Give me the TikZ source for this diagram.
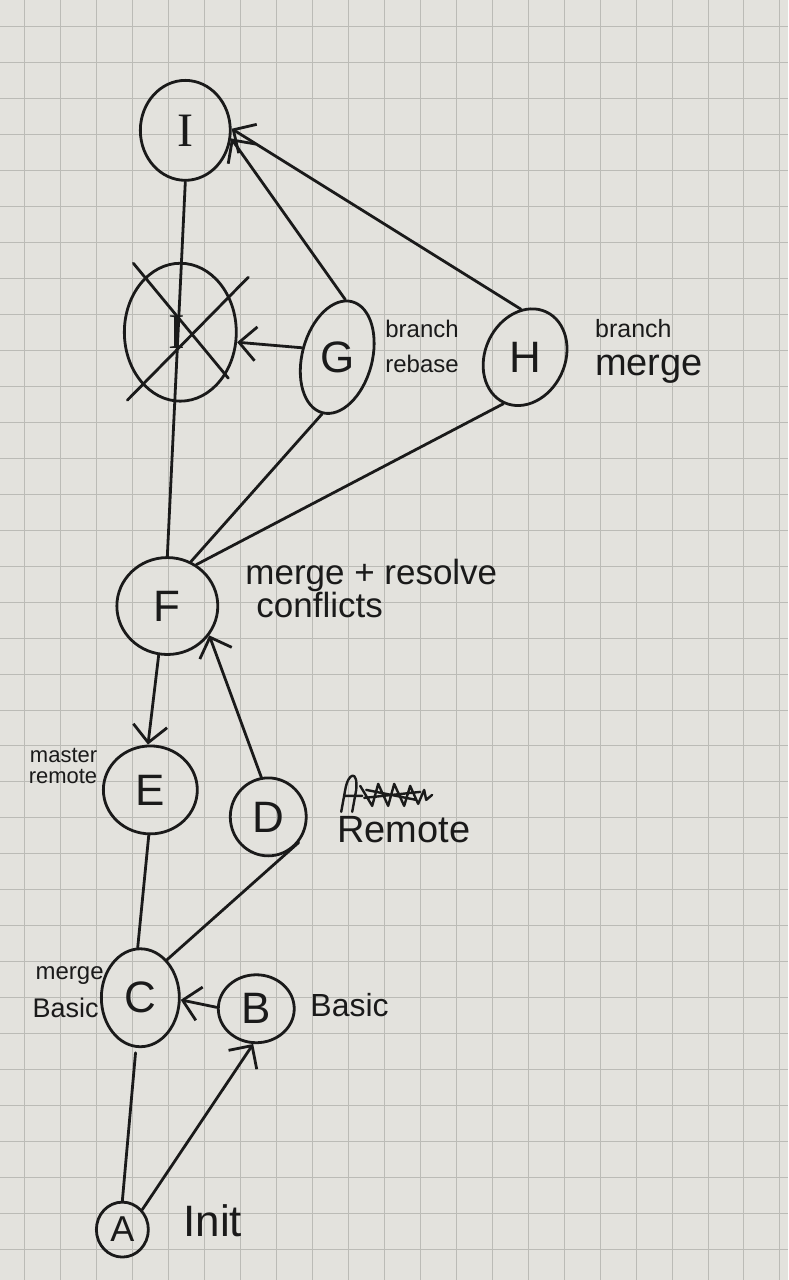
\documentclass[tikz,border=0pt]{standalone}
\usepackage{fontspec}
\setmainfont{Liberation Sans}
\newfontfamily\barfont{Liberation Serif}
\usetikzlibrary{shapes.geometric,arrows.meta,calc}
\definecolor{paper}{HTML}{E3E2DD}
\definecolor{gridc}{HTML}{BBBBB6}
\definecolor{inkc}{HTML}{1A1A1A}
\newcommand\myfs[1]{\fontsize{#1}{#1}\selectfont}
\begin{document}
\begin{tikzpicture}[x=1pt,y=-1pt,
  gridline/.style={draw=gridc, line width=0.9pt},
  ring/.style={ellipse, draw=inkc, line width=2.8pt, inner sep=0pt, text=inkc, font=\myfs{44}},
  letter/.style={text=inkc, inner sep=0pt, font=\myfs{44}},
  link/.style={draw=inkc, line width=2.8pt, line cap=round},
  arr/.style={link, -{Straight Barb[length=17pt,width=34pt,line width=2.8pt]}},
  note/.style={text=inkc, align=left, anchor=base west, inner sep=0pt},
]
% paper and grid
\fill[paper] (0,0) rectangle (788,1280);
\foreach \gx in {24,60,...,788} \draw[gridline] (\gx,0) -- (\gx,1280);
\foreach \gy in {26,62,...,1280} \draw[gridline] (0,\gy) -- (788,\gy);

% commits
\node[ring, minimum width=90pt, minimum height=100pt, font=\barfont\myfs{48}] (I) at (185,130) {I};
\node[ring, minimum width=112pt, minimum height=138pt] (Ix) at (180,332) {};
\node[ring, minimum width=70pt, minimum height=115pt, rotate=-15] (G) at (337,357) {};
\node[letter] (GL) at (G) {G};
\node[ring, minimum width=80pt, minimum height=100pt, rotate=-25] (H) at (525,357) {};
\node[letter] (HL) at (H) {H};
\node[ring, minimum width=101pt, minimum height=97pt] (F) at (167,606) {F};
\node[ring, minimum width=94pt, minimum height=88pt] (E) at (150,790) {E};
\node[ring, minimum width=76pt, minimum height=78pt] (D) at (268,817) {D};
\node[ring, minimum width=78pt, minimum height=98pt] (C) at (140,998) {C};
\node[ring, minimum width=76pt, minimum height=68pt] (B) at (256,1009) {B};
\node[ring, minimum width=52pt, minimum height=55pt, font=\myfs{36}] (A) at (122,1230) {A};

% connectors
\draw[arr] (A.45) -- (B.-95);
\draw[link, shorten >=5pt] (A.north) -- (C.-95);
\draw[arr] (B.178) -- (C.-3);
\draw[link] (C.55) -- (D.-40);
\draw[link] (C.93) -- (E.-92);
\draw[arr] (F.-100) -- (E.93);
\draw[arr] (D.100) -- (F.-35);
\draw[link] (F.north) -- (I.south);
\draw[link] (F.62) -- (G.south);
\draw[link] (F.55) -- (H.south);
\draw[arr] (G.west) -- (Ix.-10);
\draw[arr] (G.97) -- (I.-10);
\draw[arr] (H.120) -- (I.2);

% letter of the abandoned commit, and the cross over it
\node[letter, font=\barfont\myfs{50}] (IxL) at ($(Ix.center)+(-4,0)$) {I};
\draw[link] ($(Ix.center)+(-47,-69)$) -- ($(Ix.center)+(48,46)$);
\draw[link] ($(Ix.center)+(68,-55)$) -- ($(Ix.center)+(-53,68)$);

% notes
\node[note, font=\myfs{24}] (nGa) at (385,337) {branch};
\node[note, font=\myfs{24}] (nGb) at (385,372) {rebase};
\node[note, font=\myfs{25}] (nHa) at (595,337) {branch};
\node[note, font=\myfs{38}] (nHb) at (595,375) {merge};
\node[note, font=\myfs{35}] (nFa) at (245,584) {merge + resolve};
\node[note, font=\myfs{35}] (nFb) at (256,617) {conflicts};
\node[text=inkc, anchor=base east, inner sep=0pt, font=\myfs{22}] (nEa) at (97,763) {master};
\node[text=inkc, anchor=base east, inner sep=0pt, font=\myfs{22}] (nEb) at (97,784) {remote};
\node[note, font=\myfs{38}] (nD) at (337,843) {Remote};
\node[note, font=\myfs{24}] (nCa) at (35,980) {merge};
\node[note, font=\myfs{27}] (nCb) at (32,1018) {Basic};
\node[note, font=\myfs{32}] (nB) at (310,1017) {Basic};
\node[note, font=\myfs{44}] (nA) at (183,1237) {Init};

% crossed-out word above "Remote"
\draw[draw=inkc, line width=2.4pt, line join=round, line cap=round]
  (341,812) -- (345,790) .. controls (348,772) and (358,770) .. (356,790) -- (352,812)
  (344,796) -- (362,796)
  (360,786) -- (372,806) -- (378,784) -- (388,806) -- (394,784) -- (404,806) -- (410,786) -- (418,804) -- (424,790)
  (364,798) -- (420,792) (366,790) -- (416,800)
  (424,790) -- (426,800) -- (432,795);
\end{tikzpicture}
\end{document}
